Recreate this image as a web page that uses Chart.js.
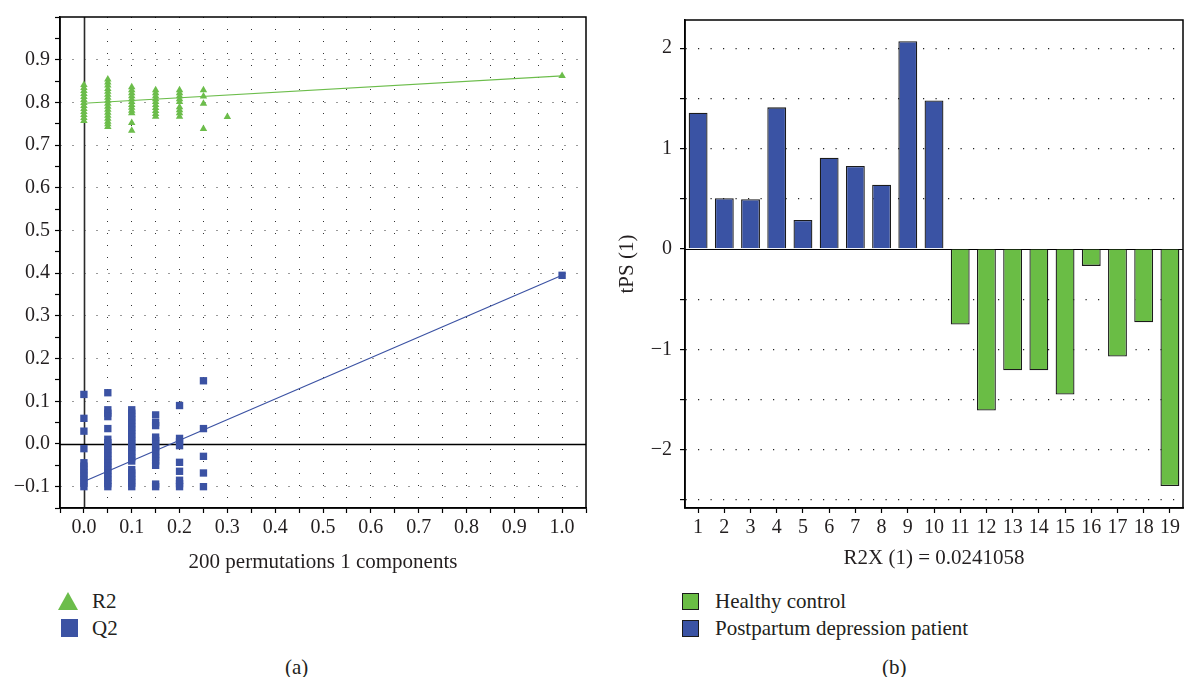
<!DOCTYPE html>
<html>
<head>
<meta charset="utf-8">
<title>Permutation test and tPS scores</title>
<script src="https://cdn.jsdelivr.net/npm/chart.js@4.4.0/dist/chart.umd.min.js"></script>
<style>
  body { margin: 0; background: #fff; font-family: "Liberation Serif", "DejaVu Serif", serif; color: #231f20; }
  #wrap { position: relative; width: 1186px; height: 677px; overflow: hidden; }
  canvas { position: absolute; top: 0; }
  .txt { position: absolute; font-size: 21px; line-height: 24px; white-space: nowrap; }
  .tri { position: absolute; width: 0; height: 0; border-left: 10.5px solid transparent; border-right: 10.5px solid transparent; border-bottom: 18px solid #6cbd4b; }
  .sq { position: absolute; width: 17px; height: 18px; }
  .box { position: absolute; width: 15px; height: 15px; border: 1.5px solid #1b1b1b; }
</style>
</head>
<body>
<div id="wrap">
  <canvas id="permChart" width="600" height="580" style="left:0"></canvas>
  <canvas id="scoreChart" width="586" height="580" style="left:600px"></canvas>

  <div class="tri" style="left:58px;top:592px"></div>
  <div class="txt" style="left:92px;top:589px">R2</div>
  <div class="sq" style="left:61px;top:619px;background:#3b52a3"></div>
  <div class="txt" style="left:92px;top:616px">Q2</div>

  <div class="box" style="left:682px;top:593px;background:#6abd45"></div>
  <div class="txt" style="left:715px;top:589px">Healthy control</div>
  <div class="box" style="left:682px;top:620px;background:#3a53a4"></div>
  <div class="txt" style="left:715px;top:616px">Postpartum depression patient</div>

  <div class="txt" style="left:285px;top:655px">(a)</div>
  <div class="txt" style="left:882px;top:655px">(b)</div>
</div>

<script>
// ---- (a) permutation test, 200 permutations ----
const permSteps = [0, 0.05, 0.1, 0.15, 0.2, 0.25, 0.3];
const r2Columns = [
  [0.841, 0.834, 0.827, 0.820, 0.813, 0.806, 0.799, 0.792, 0.785, 0.778, 0.771, 0.764, 0.757],
  [0.854, 0.847, 0.840, 0.832, 0.825, 0.818, 0.811, 0.804, 0.797, 0.790, 0.783, 0.776, 0.769, 0.762, 0.755, 0.749, 0.743],
  [0.836, 0.829, 0.822, 0.815, 0.808, 0.801, 0.794, 0.788, 0.781, 0.775, 0.752, 0.734],
  [0.829, 0.822, 0.815, 0.808, 0.801, 0.794, 0.787, 0.780, 0.773, 0.767],
  [0.829, 0.822, 0.815, 0.808, 0.801, 0.789, 0.782, 0.775, 0.767],
  [0.829, 0.814, 0.797, 0.738],
  [0.766]
];
const q2Columns = [
  [0.116, 0.060, 0.030, -0.011, -0.044, -0.052, -0.060, -0.068, -0.076, -0.084, -0.092, -0.100],
  [0.120, 0.080, 0.072, 0.064, 0.036, 0.011, 0.003, -0.005, -0.013, -0.021, -0.029, -0.037, -0.045, -0.053, -0.061, -0.069, -0.077, -0.085, -0.093, -0.100],
  [0.080, 0.072, 0.064, 0.056, 0.048, 0.040, 0.032, 0.024, 0.016, 0.008, 0.000, -0.008, -0.016, -0.024, -0.032, -0.040, -0.060, -0.068, -0.076, -0.084, -0.092, -0.100],
  [0.068, 0.050, 0.043, 0.016, 0.008, 0.000, -0.008, -0.016, -0.024, -0.032, -0.040, -0.050, -0.094, -0.100],
  [0.090, 0.013, 0.005, -0.004, -0.043, -0.064, -0.085, -0.093, -0.100],
  [0.148, 0.036, -0.029, -0.068, -0.100],
  []
];
const originalX = 1.0;
const originalR2 = 0.862;
const originalQ2 = 0.395;
const fitX = [0, 1];
const r2Fit = [0.798, 0.862];
const q2Fit = [-0.088, 0.395];
const permXTicks = [-0.05, 0, 0.05, 0.1, 0.15, 0.2, 0.25, 0.3, 0.35, 0.4, 0.45, 0.5, 0.55, 0.6, 0.65, 0.7, 0.75, 0.8, 0.85, 0.9, 0.95, 1.0, 1.05];
const permYTicks = [-0.15, -0.1, -0.05, 0, 0.05, 0.1, 0.15, 0.2, 0.25, 0.3, 0.35, 0.4, 0.45, 0.5, 0.55, 0.6, 0.65, 0.7, 0.75, 0.8, 0.85, 0.9, 0.95, 1.0];

// ---- (b) tPS scores ----
const samples = ['1', '2', '3', '4', '5', '6', '7', '8', '9', '10', '11', '12', '13', '14', '15', '16', '17', '18', '19'];
const tpsScores = [1.357, 0.505, 0.495, 1.41, 0.289, 0.908, 0.826, 0.639, 2.069, 1.479,
                   -0.752, -1.609, -1.208, -1.208, -1.45, -0.169, -1.072, -0.73, -2.362];
const sampleGroup = ['P', 'P', 'P', 'P', 'P', 'P', 'P', 'P', 'P', 'P',
                     'H', 'H', 'H', 'H', 'H', 'H', 'H', 'H', 'H'];
const tpsYTicks = [-2.5, -2, -1.5, -1, -0.5, 0, 0.5, 1, 1.5, 2];

const GREEN = '#6abd45';
const BLUE = '#3a53a4';
const INK = '#231f20';
const FONT = { family: '"Liberation Serif", "DejaVu Serif", serif', size: 20 };
const TITLE_FONT = { family: '"Liberation Serif", "DejaVu Serif", serif', size: 21 };

Chart.defaults.color = INK;
Chart.defaults.animation = false;

function near(v, step) {
  return Math.abs(v / step - Math.round(v / step)) < 1e-6;
}
function fmt(v, digits) {
  const s = Math.abs(v).toFixed(digits);
  return (v < -1e-9 ? '\u2212' : '') + s;
}

// solid zero lines under the marks and a full frame round the plot
function framePlugin(zeroAxes) {
  return {
    id: 'frameAndZero',
    beforeDatasetsDraw(chart) {
      const { ctx, chartArea: a, scales } = chart;
      ctx.save();
      zeroAxes.forEach(z => {
        const sc = scales[z.axis];
        const p = Math.round(sc.getPixelForValue(0)) + 0.5;
        ctx.strokeStyle = z.color;
        ctx.lineWidth = z.width;
        ctx.beginPath();
        if (sc.isHorizontal()) { ctx.moveTo(p, a.top); ctx.lineTo(p, a.bottom); }
        else { ctx.moveTo(a.left, p); ctx.lineTo(a.right, p); }
        ctx.stroke();
      });
      ctx.restore();
    },
    afterDraw(chart) {
      const { ctx, chartArea: a } = chart;
      ctx.save();
      ctx.strokeStyle = '#000';
      ctx.lineWidth = 1.5;
      ctx.strokeRect(a.left, a.top, a.right - a.left, a.bottom - a.top);
      ctx.restore();
    }
  };
}

// build permutation points from the columns
const r2Points = [];
const q2Points = [];
permSteps.forEach((x, i) => {
  r2Columns[i].forEach(y => r2Points.push({ x: x, y: y }));
  q2Columns[i].forEach(y => q2Points.push({ x: x, y: y }));
});
r2Points.push({ x: originalX, y: originalR2 });
q2Points.push({ x: originalX, y: originalQ2 });

new Chart(document.getElementById('permChart'), {
  type: 'scatter',
  data: {
    datasets: [
      {
        label: 'R2 fit', data: fitX.map((x, i) => ({ x: x, y: r2Fit[i] })),
        showLine: true, borderColor: '#6cbd4b', borderWidth: 1.2, pointRadius: 0
      },
      {
        label: 'Q2 fit', data: fitX.map((x, i) => ({ x: x, y: q2Fit[i] })),
        showLine: true, borderColor: '#3b52a3', borderWidth: 1.2, pointRadius: 0
      },
      {
        label: 'R2', data: r2Points, pointStyle: 'triangle', pointRadius: 4.3,
        backgroundColor: '#6cbd4b', borderColor: '#6cbd4b', borderWidth: 0
      },
      {
        label: 'Q2', data: q2Points, pointStyle: 'rect', pointRadius: 5.2,
        backgroundColor: '#3b52a3', borderColor: '#3b52a3', borderWidth: 0
      }
    ]
  },
  options: {
    responsive: false,
    layout: { padding: { top: 14, right: 14, left: 0, bottom: 0 } },
    plugins: { legend: { display: false }, tooltip: { enabled: false } },
    scales: {
      x: {
        type: 'linear', min: -0.05, max: 1.05,
        afterBuildTicks: s => { s.ticks = permXTicks.map(v => ({ value: v })); },
        afterFit: s => { s.height = 72; },
        ticks: {
          font: FONT, padding: 3, maxRotation: 0, autoSkip: false,
          callback: v => (near(v, 0.1) && v > -0.01 && v < 1.01) ? fmt(v, 1) : ''
        },
        grid: {
          color: c => (c.tick && Math.abs(c.tick.value) > 1e-6 && c.tick.value > -0.01 && c.tick.value < 1.01) ? '#333' : 'rgba(0,0,0,0)',
          lineWidth: 1, tickLength: 5, tickColor: '#000', tickWidth: 1.2
        },
        border: { color: '#000', width: 1.5, dash: [1, 11] },
        title: { display: true, text: '200 permutations 1 components', font: TITLE_FONT, padding: { top: 0, bottom: 5.4 } }
      },
      y: {
        type: 'linear', min: -0.15, max: 1.0,
        afterBuildTicks: s => { s.ticks = permYTicks.map(v => ({ value: v })); },
        afterFit: s => { s.width = 60; },
        ticks: {
          font: FONT, padding: 5, autoSkip: false,
          callback: v => (near(v, 0.1) && v < 0.95) ? fmt(v, 1) : ''
        },
        grid: {
          color: c => (c.tick && near(c.tick.value, 0.1) && Math.abs(c.tick.value) > 1e-6 && c.tick.value < 0.95) ? '#333' : 'rgba(0,0,0,0)',
          lineWidth: 1, tickLength: 5, tickColor: '#000', tickWidth: 1.2
        },
        border: { color: '#000', width: 1.5, dash: [1, 11] }
      }
    }
  },
  plugins: [framePlugin([
    { axis: 'x', color: '#2a2a2a', width: 1.6 },
    { axis: 'y', color: '#000', width: 1.5 }
  ])]
});

new Chart(document.getElementById('scoreChart'), {
  type: 'bar',
  data: {
    labels: samples,
    datasets: [
      {
        label: 'Healthy control',
        data: tpsScores.map((v, i) => sampleGroup[i] === 'H' ? v : null),
        backgroundColor: GREEN, borderColor: '#1b1b1b', borderWidth: 1.3, grouped: false
      },
      {
        label: 'Postpartum depression patient',
        data: tpsScores.map((v, i) => sampleGroup[i] === 'P' ? v : null),
        backgroundColor: BLUE, borderColor: '#1b1b1b', borderWidth: 1.3, grouped: false
      }
    ]
  },
  options: {
    responsive: false,
    layout: { padding: { top: 14, right: 3, left: 0, bottom: 0 } },
    plugins: { legend: { display: false }, tooltip: { enabled: false } },
    scales: {
      x: {
        afterFit: s => { s.height = 72; },
        ticks: { font: FONT, padding: 3, maxRotation: 0, autoSkip: false },
        grid: { offset: false, drawOnChartArea: false, tickLength: 5, tickColor: '#000', tickWidth: 1.2 },
        border: { color: '#000', width: 1.5 },
        title: { display: true, text: 'R2X (1) = 0.0241058', font: TITLE_FONT, padding: { top: 0, bottom: 9.4 } }
      },
      y: {
        type: 'linear', min: -2.58, max: 2.28,
        afterBuildTicks: s => { s.ticks = tpsYTicks.map(v => ({ value: v })); },
        afterFit: s => { s.width = 85; },
        ticks: {
          font: FONT, padding: 8, autoSkip: false,
          callback: v => near(v, 1) ? fmt(v, 0) : ''
        },
        grid: {
          color: c => (c.tick && Math.abs(c.tick.value) > 1e-6) ? '#222' : 'rgba(0,0,0,0)',
          lineWidth: 1.2, tickLength: 5, tickColor: '#000', tickWidth: 1.2
        },
        border: { color: '#000', width: 1.5, dash: [1.2, 11.3] },
        title: { display: true, text: 'tPS (1)', font: TITLE_FONT, padding: { top: 14.4, bottom: 0 } }
      }
    }
  },
  plugins: [framePlugin([
    { axis: 'y', color: '#000', width: 1.2 }
  ])]
});
</script>
</body>
</html>
